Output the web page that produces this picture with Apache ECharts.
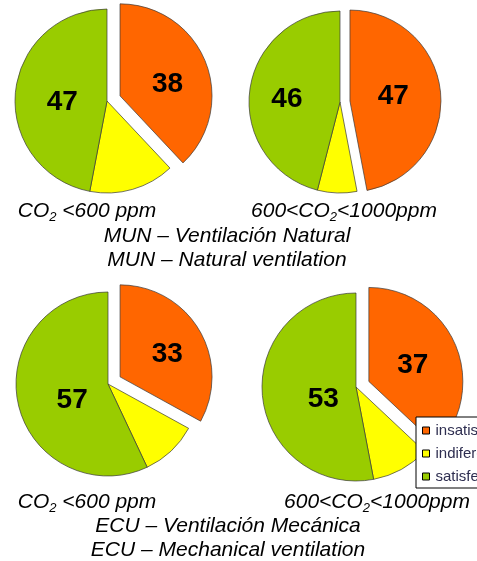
<!DOCTYPE html>
<html>
<head>
<meta charset="utf-8">
<script src="https://cdn.jsdelivr.net/npm/echarts@6/dist/echarts.min.js"></script>
<style>
  html, body { margin: 0; padding: 0; background: #fff; }
  #chart { width: 477px; height: 561px; }
</style>
</head>
<body>
<div id="chart"></div>
<script>
// Satisfaction categories (legend order)
const categories = ['insatisfecho', 'indiferente', 'satisfecho'];
const sliceColors = ['#FF6600', '#FFFF00', '#99CC00'];

// Percentages per building and CO2 band
const munLow  = [38, 15, 47];   // MUN, CO2 < 600 ppm
const munHigh = [47, 7, 46];    // MUN, 600 < CO2 < 1000 ppm
const ecuLow  = [33, 10, 57];   // ECU, CO2 < 600 ppm
const ecuHigh = [37, 10, 53];   // ECU, 600 < CO2 < 1000 ppm

const FONT = '"Liberation Sans", Arial, sans-serif';

// Pie layout: centre, radius, pull-out of the first slice, and small
// nudges for the value labels of each slice (pixels).
function pieSeries(values, center, radius, offset, nudges) {
  return {
    type: 'pie',
    center: center,
    radius: radius,
    startAngle: 90,
    clockwise: true,
    selectedMode: 'single',
    selectedOffset: offset,
    avoidLabelOverlap: false,
    emphasis: { disabled: true },
    itemStyle: { borderColor: '#3a3a3a', borderWidth: 0.7 },
    label: {
      show: true,
      position: 'inside',
      formatter: '{c}',
      fontFamily: FONT,
      fontSize: 28,
      fontWeight: 'bold',
      color: '#000'
    },
    labelLine: { show: false },
    data: categories.map((name, i) => ({
      name: name,
      value: values[i],
      selected: i === 0,
      itemStyle: { color: sliceColors[i] },
      label: { show: i !== 1, offset: nudges[i] },
      select: { label: { show: i !== 1, offset: nudges[i] } }
    }))
  };
}

function caption(text, x, y) {
  return {
    type: 'text',
    x: x,
    y: y,
    style: {
      text: text,
      fill: '#000',
      font: 'italic 21px ' + FONT,
      align: 'center',
      verticalAlign: 'middle',
      lineHeight: 25,
      rich: {
        s: { fontSize: 13, fontStyle: 'italic', fontFamily: FONT, lineHeight: 16, verticalAlign: 'bottom', fill: '#000' }
      }
    }
  };
}

const chart = echarts.init(document.getElementById('chart'), null, { renderer: 'canvas' });

chart.setOption({
  animation: false,
  backgroundColor: '#fff',
  legend: {
    orient: 'vertical',
    left: 416,
    top: 417,
    z: 10,
    data: categories,
    icon: 'rect',
    itemWidth: 7,
    itemHeight: 7,
    itemGap: 8,
    padding: [6, 6, 4, 6],
    backgroundColor: '#fff',
    borderColor: '#000',
    borderWidth: 1,
    selectedMode: false,
    itemStyle: { borderColor: '#000', borderWidth: 1 },
    textStyle: { fontFamily: FONT, fontSize: 15, color: '#2e2e50', padding: [0, 0, 0, 1] }
  },
  series: [
    pieSeries(munLow,  [107, 101], 92, 14, [[2, 6], [0, 0], [4, 6]]),
    pieSeries(munHigh, [340, 102], 91, 10, [[-5, 0], [0, 0], [-5, 3]]),
    pieSeries(ecuLow,  [108, 384], 92, 14, [[5, 2], [0, 0], [12, 6]]),
    pieSeries(ecuHigh, [356, 387], 94, 14, [[-2, 4], [0, 0], [17, 8]])
  ],
  graphic: [
    caption('CO{s|2} <600 ppm', 87, 211),
    caption('600<CO{s|2}<1000ppm', 344, 211),
    caption('MUN \u2013 Ventilación Natural', 227, 236),
    caption('MUN \u2013 Natural ventilation', 227, 260),
    caption('CO{s|2} <600 ppm', 87, 502),
    caption('600<CO{s|2}<1000ppm', 377, 502),
    caption('ECU \u2013 Ventilación Mecánica', 228, 526),
    caption('ECU \u2013 Mechanical ventilation', 228, 550)
  ]
});
</script>
</body>
</html>
